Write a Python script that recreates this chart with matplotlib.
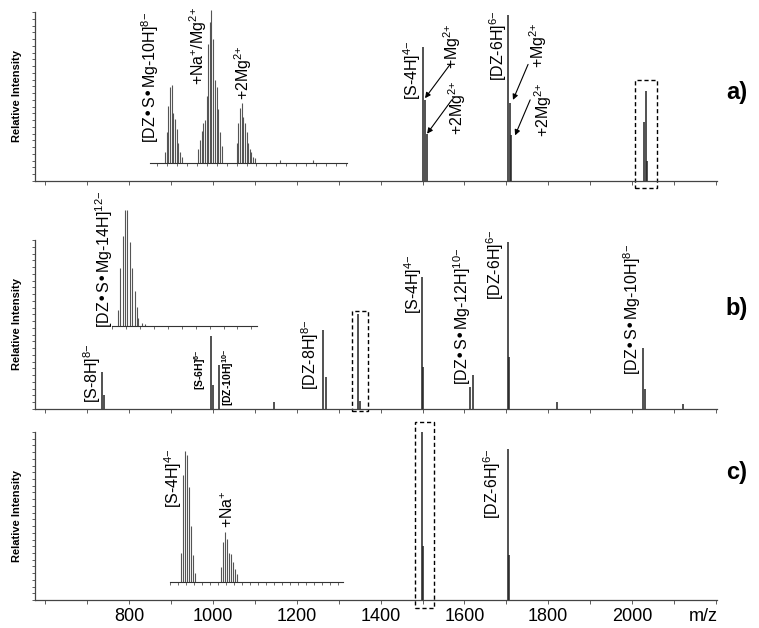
import matplotlib
matplotlib.use('Agg')
import matplotlib.pyplot as plt
from matplotlib.patches import Rectangle
from matplotlib.ticker import MultipleLocator

plt.rcParams['font.family'] = ['Liberation Sans', 'DejaVu Sans']
plt.rcParams['mathtext.default'] = 'regular'

# main spectra, peak tops (m/z, relative intensity)
a_mz = [1500, 1505, 1510, 1704, 1708, 1712, 2029, 2033, 2037]
a_int = [0.79, 0.48, 0.28, 0.98, 0.46, 0.27, 0.35, 0.53, 0.12]

b_mz = [735, 740, 995, 1000, 1014, 1146, 1262, 1270, 1346, 1351,
        1499, 1501, 1613, 1620, 1704, 1706, 1821, 2026, 2031, 2122]
b_int = [0.22, 0.08, 0.43, 0.14, 0.26, 0.04, 0.47, 0.19, 0.56, 0.05,
         0.78, 0.25, 0.13, 0.20, 0.99, 0.31, 0.04, 0.36, 0.12, 0.03]

c_mz = [1499, 1501, 1704, 1706]
c_int = [1.01, 0.32, 0.90, 0.27]

# inset a: [DZ.S.Mg-10H]8- isotope clusters
ia_mz = [2027.12, 2027.25, 2027.38, 2027.50, 2027.62, 2027.75, 2027.88, 2028.00, 2028.12, 2028.25, 2028.38,
         2029.62, 2029.75, 2029.88, 2030.00, 2030.12, 2030.25, 2030.38, 2030.50, 2030.62, 2030.75,
         2030.88, 2031.00, 2031.12, 2031.25, 2031.38,
         2032.50, 2032.62, 2032.75, 2032.88, 2033.00, 2033.12, 2033.25, 2033.38, 2033.50, 2033.62,
         2033.75, 2033.88, 2035.75, 2038.25]
ia_int = [0.07, 0.20, 0.37, 0.50, 0.51, 0.33, 0.29, 0.22, 0.13, 0.07, 0.04,
          0.09, 0.15, 0.21, 0.26, 0.28, 0.44, 0.78, 0.92, 1.00, 0.81,
          0.54, 0.50, 0.35, 0.20, 0.11,
          0.13, 0.26, 0.36, 0.39, 0.30, 0.26, 0.20, 0.13, 0.09, 0.07,
          0.04, 0.03, 0.02, 0.02]

# inset b: [DZ.S.Mg-14H]12-
ib_mz = [1353.71, 1353.80, 1353.88, 1353.98, 1354.05, 1354.13, 1354.21, 1354.31,
         1354.38, 1354.45, 1354.57, 1354.67]
ib_int = [0.14, 0.50, 0.78, 1.00, 1.00, 0.72, 0.50, 0.30, 0.16, 0.07, 0.03, 0.02]

# inset c: [S-4H]4- and +Na+
ic_mz = [1498.33, 1498.58, 1498.83, 1499.08, 1499.33, 1499.58, 1499.83, 1500.08,
         1503.33, 1503.58, 1503.83, 1504.08, 1504.33, 1504.58, 1504.83, 1505.08, 1505.33]
ic_int = [0.22, 0.80, 0.98, 0.95, 0.71, 0.42, 0.20, 0.07,
          0.11, 0.30, 0.37, 0.32, 0.22, 0.21, 0.15, 0.10, 0.06]

W, H = 759, 628
fig = plt.figure(figsize=(W / 100, H / 100), dpi=100)


def px_axes(l, t, r, b):
    return fig.add_axes([l / W, 1 - b / H, (r - l) / W, (b - t) / H])


def main_axes(t, b, mz, inten, last=False):
    ax = px_axes(35, t, 717, b)
    ax.vlines(mz, 0, inten, color='#222222', lw=1.1)
    ax.set_xlim(575, 2203)
    ax.set_ylim(0, 1)
    for s in ['top', 'right']:
        ax.spines[s].set_visible(False)
    for s in ['left', 'bottom']:
        ax.spines[s].set_color('#444444')
        ax.spines[s].set_linewidth(0.9)
    ax.xaxis.set_major_locator(MultipleLocator(200))
    ax.xaxis.set_minor_locator(MultipleLocator(100))
    ax.yaxis.set_major_locator(MultipleLocator(0.04))
    ax.tick_params(axis='y', length=2, width=0.6, color='#444444', labelleft=False)
    ax.tick_params(axis='x', which='both', length=3, width=0.6, color='#444444',
                   labelbottom=last, labelsize=13, pad=3)
    ax.patch.set_visible(False)
    ax.text(-0.027, 0.5, 'Relative Intensity', transform=ax.transAxes, rotation=90,
            ha='center', va='center', fontsize=8, fontweight='bold')
    return ax


def inset_axes(l, t, r, b, mz, inten, xlim, step):
    ax = px_axes(l, t, r, b)
    ax.vlines(mz, 0, inten, color='#555555', lw=0.8)
    ax.set_xlim(*xlim)
    ax.set_ylim(0, 1)
    for s in ['top', 'right', 'left']:
        ax.spines[s].set_visible(False)
    ax.spines['bottom'].set_color('#333333')
    ax.spines['bottom'].set_linewidth(0.8)
    ax.xaxis.set_major_locator(MultipleLocator(step))
    ax.tick_params(axis='x', length=2, width=0.5, color='#333333', labelbottom=False)
    ax.set_yticks([])
    ax.patch.set_visible(False)
    return ax


def lab(ax, x, y, s, size=11.5, weight='normal'):
    ax.text(x, y, s, rotation=90, ha='center', va='bottom', fontsize=size, fontweight=weight)


def arrow(ax, tail, tip):
    ax.annotate('', xy=tip, xytext=tail,
                arrowprops=dict(arrowstyle='-|>', lw=0.8, color='k', mutation_scale=8,
                                shrinkA=0, shrinkB=0))


def box(ax, x0, x1, y0, y1):
    ax.add_patch(Rectangle((x0, y0), x1 - x0, y1 - y0, fill=False, ls=(0, (3, 2)),
                           lw=1.0, ec='k', clip_on=False))


# panel a
ax_a = main_axes(12, 181, a_mz, a_int)
lab(ax_a, 1475, 0.48, '[S-4H]$^{4{-}}$')
lab(ax_a, 1570, 0.66, '+Mg$^{2{+}}$')
lab(ax_a, 1582, 0.27, '+2Mg$^{2{+}}$')
arrow(ax_a, (1566, 0.69), (1506, 0.49))
arrow(ax_a, (1570, 0.48), (1511, 0.28))
lab(ax_a, 1680, 0.59, '[DZ-6H]$^{6{-}}$')
lab(ax_a, 1776, 0.67, '+Mg$^{2{+}}$')
lab(ax_a, 1788, 0.26, '+2Mg$^{2{+}}$')
arrow(ax_a, (1752, 0.69), (1716, 0.48))
arrow(ax_a, (1757, 0.48), (1721, 0.27))
box(ax_a, 2007, 2060, -0.04, 0.60)

# panel b
ax_b = main_axes(240, 409, b_mz, b_int)
lab(ax_b, 711, 0.035, '[S-8H]$^{8{-}}$')
lab(ax_b, 969, 0.11, '[S-6H]$^{6{-}}$', size=7.5, weight='bold')
lab(ax_b, 1036, 0.02, '[DZ-10H]$^{10{-}}$', size=7.5, weight='bold')
lab(ax_b, 1231, 0.11, '[DZ-8H]$^{8{-}}$')
lab(ax_b, 1477, 0.56, '[S-4H]$^{4{-}}$')
lab(ax_b, 1594, 0.14, '[DZ•S•Mg-12H]$^{10{-}}$')
lab(ax_b, 1673, 0.645, '[DZ-6H]$^{6{-}}$')
lab(ax_b, 2000, 0.20, '[DZ•S•Mg-10H]$^{8{-}}$')
box(ax_b, 1332, 1370, -0.01, 0.58)

# panel c
ax_c = main_axes(432, 600, c_mz, c_int, last=True)
lab(ax_c, 1666, 0.48, '[DZ-6H]$^{6{-}}$')
box(ax_c, 1482, 1527, -0.05, 1.06)
ax_c.text(2170, -0.1, 'm/z', transform=ax_c.get_xaxis_transform(),
          ha='center', va='center', fontsize=13)
for lbl in ax_c.get_xticklabels():
    lbl.set_visible(600 < lbl.get_position()[0] < 2100)

# insets
in_a = inset_axes(150, 10, 347, 163, ia_mz, ia_int, (2026.0, 2040.8), 0.75)
lab(in_a, 2026.0, 0.13, '[DZ•S•Mg-10H]$^{8{-}}$')
lab(in_a, 2029.6, 0.51, '+Na$^{{+}}$/Mg$^{2{+}}$')
lab(in_a, 2033.0, 0.41, '+2Mg$^{2{+}}$')

in_b = inset_axes(112, 210, 257, 326, ib_mz, ib_int, (1353.5, 1358.7), 0.5)
lab(in_b, 1353.21, -0.02, '[DZ•S•Mg-14H]$^{12{-}}$')

in_c = inset_axes(170, 448, 343, 582, ic_mz, ic_int, (1497.0, 1518.6), 1)
lab(in_c, 1497.4, 0.55, '[S-4H]$^{4{-}}$')
lab(in_c, 1504.25, 0.40, '+Na$^{{+}}$')

for s, y in [('a)', 92), ('b)', 308), ('c)', 473)]:
    fig.text(737 / W, 1 - y / H, s, ha='center', va='center', fontsize=17, fontweight='bold')

fig.savefig('out.png', dpi=100)
